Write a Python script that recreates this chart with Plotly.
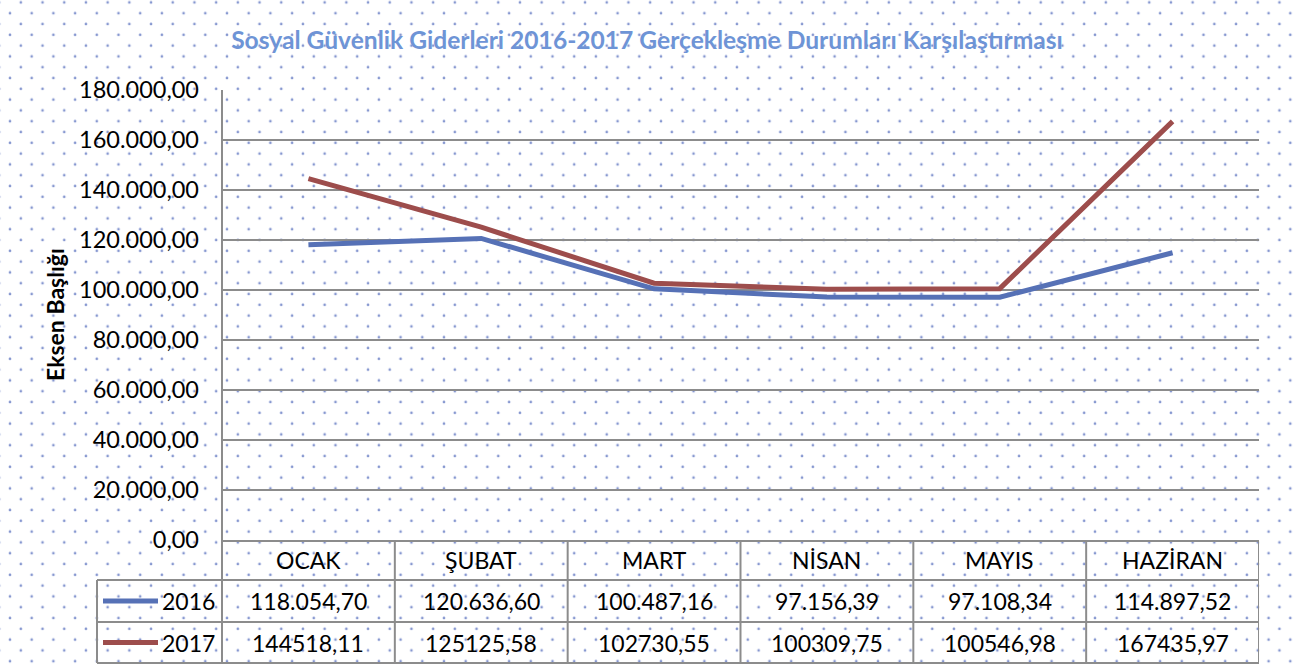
import base64
import plotly.graph_objects as go

# ---------------- data ----------------
categories = ["OCAK", "ŞUBAT", "MART", "NİSAN", "MAYIS", "HAZİRAN"]
series_names = ["2016", "2017"]
values_2016 = [118054.70, 120636.60, 100487.16, 97156.39, 97108.34, 114897.52]
values_2017 = [144518.11, 125125.58, 102730.55, 100309.75, 100546.98, 167435.97]
y_tick_values = [0, 20000, 40000, 60000, 80000, 100000, 120000, 140000, 160000, 180000]

title_text = "Sosyal Güvenlik Giderleri 2016-2017 Gerçekleşme Durumları Karşılaştırması"
axis_title = "Eksen Başlığı"

# ---------------- styling / layout constants ----------------
W, H = 1294, 668
L, R, T, B = 222, 1259, 90, 540
PW, PH = R - L, B - T
FONT = "Lato, 'Noto Sans', sans-serif"
C2016 = "#5671b6"
C2017 = "#9d4d4c"
GRID = "#8c8c8c"
TEXT = "#000000"
ROW_Y = [540, 580, 622, 663]   # table row boundaries (px)
LEG_LEFT = 97


def px(x):
    return (x - L) / PW


def py(y):
    return (B - y) / PH


def fmt_thousands(v):
    s = f"{v:,.2f}"
    return s.replace(",", "X").replace(".", ",").replace("X", ".")


def fmt_plain(v):
    return f"{v:.2f}".replace(".", ",")


# dotted background pattern as svg
svg = f"""<svg xmlns='http://www.w3.org/2000/svg' width='{W}' height='{H}'>
<defs><pattern id='p' x='10' y='2.5' width='21.7' height='21.6' patternUnits='userSpaceOnUse'>
<circle cx='0' cy='10.8' r='1.35' fill='#8697d0'/>
<circle cx='10.85' cy='0' r='1.35' fill='#8697d0'/>
<circle cx='10.85' cy='21.6' r='1.35' fill='#8697d0'/>
<circle cx='21.7' cy='10.8' r='1.35' fill='#8697d0'/>
</pattern></defs>
<rect width='{W}' height='{H}' fill='white'/>
<rect width='{W}' height='{H}' fill='url(#p)'/>
</svg>"""
bg_src = "data:image/svg+xml;base64," + base64.b64encode(svg.encode()).decode()

fig = go.Figure()
fig.add_trace(go.Scatter(x=categories, y=values_2016, mode="lines", name=series_names[0],
                         line=dict(color=C2016, width=5), showlegend=False))
fig.add_trace(go.Scatter(x=categories, y=values_2017, mode="lines", name=series_names[1],
                         line=dict(color=C2017, width=5), showlegend=False))

shapes = []
annotations = []

# axis line continuing into table (left) and table grid
shapes.append(dict(type="line", xref="paper", yref="paper", x0=0, x1=0,
                   y0=py(T), y1=py(ROW_Y[3]), line=dict(color=GRID, width=2)))
for i in range(1, len(categories) + 1):
    shapes.append(dict(type="line", xref="x", yref="paper", x0=i - 0.5, x1=i - 0.5,
                       y0=py(ROW_Y[0]), y1=py(ROW_Y[3]), line=dict(color=GRID, width=2)))
shapes.append(dict(type="line", xref="paper", yref="paper", x0=px(LEG_LEFT), x1=px(LEG_LEFT),
                   y0=py(ROW_Y[1]), y1=py(ROW_Y[3]), line=dict(color=GRID, width=2)))
for yy in ROW_Y[1:]:
    shapes.append(dict(type="line", xref="paper", yref="paper", x0=px(LEG_LEFT), x1=1,
                       y0=py(yy), y1=py(yy), line=dict(color=GRID, width=2)))

# category row
cat_y = py((ROW_Y[0] + ROW_Y[1]) / 2)
for c in categories:
    annotations.append(dict(x=c, y=cat_y, xref="x", yref="paper", text=c, showarrow=False,
                            font=dict(family=FONT, size=23, color=TEXT),
                            xanchor="center", yanchor="middle"))

# data rows
rows = [
    (series_names[0], values_2016, C2016, fmt_thousands),
    (series_names[1], values_2017, C2017, fmt_plain),
]
for r, (name, vals, col, fmt) in enumerate(rows):
    yc = py((ROW_Y[r + 1] + ROW_Y[r + 2]) / 2)
    for c, v in zip(categories, vals):
        annotations.append(dict(x=c, y=yc, xref="x", yref="paper", text=fmt(v), showarrow=False,
                                font=dict(family=FONT, size=23, color=TEXT),
                                xanchor="center", yanchor="middle"))
    shapes.append(dict(type="line", xref="paper", yref="paper", x0=px(103), x1=px(158),
                       y0=yc, y1=yc, line=dict(color=col, width=5)))
    annotations.append(dict(x=px(160), y=yc, xref="paper", yref="paper", text=name, showarrow=False,
                            font=dict(family=FONT, size=23, color=TEXT),
                            xanchor="left", yanchor="middle"))

# y axis title
annotations.append(dict(x=px(55), y=py(315), xref="paper", yref="paper", text=f"<b>{axis_title}</b>",
                        showarrow=False, textangle=-90,
                        font=dict(family=FONT, size=23, color=TEXT),
                        xanchor="center", yanchor="middle"))

fig.update_layout(
    width=W, height=H,
    margin=dict(l=L, r=W - R, t=T, b=H - B),
    paper_bgcolor="white",
    plot_bgcolor="rgba(0,0,0,0)",
    separators=",.",
    showlegend=False,
    title=dict(text=f"<b>{title_text}</b>", x=647 / W, xref="container", xanchor="center",
               y=1 - 40 / H, yref="container", yanchor="middle",
               font=dict(family=FONT, size=24.6, color="#6e94d6")),
    images=[dict(source=bg_src, xref="paper", yref="paper", x=px(0), y=py(0),
                 sizex=W / PW, sizey=H / PH, xanchor="left", yanchor="top",
                 sizing="stretch", layer="below")],
    shapes=shapes,
    annotations=annotations,
)
fig.update_xaxes(type="category", range=[-0.5, len(categories) - 0.5], showticklabels=False,
                 showgrid=False, showline=True, linecolor=GRID, linewidth=2, ticks="",
                 zeroline=False)
fig.update_yaxes(range=[0, 180000], tickvals=y_tick_values, tickformat=",.2f",
                 showgrid=True, gridcolor=GRID, gridwidth=2, zeroline=False,
                 showline=False, ticks="", ticklabelstandoff=22,
                 tickfont=dict(family=FONT, size=23.5, color=TEXT))

fig.write_html("out.html", config={"displayModeBar": False},
               post_script="document.body.style.margin='0';document.body.style.overflow='hidden';")
